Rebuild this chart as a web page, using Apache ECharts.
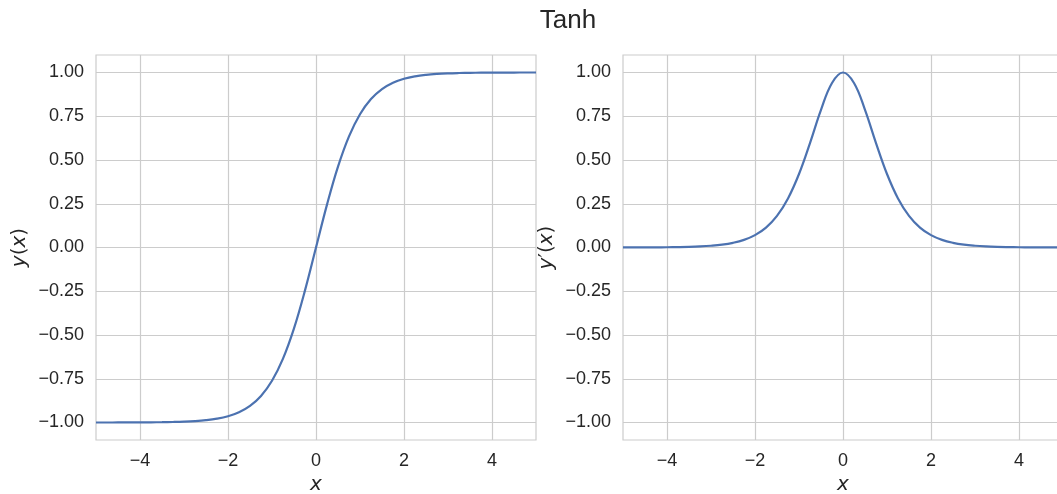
<!DOCTYPE html>
<html><head><meta charset="utf-8">
<script src="https://cdn.jsdelivr.net/npm/echarts@6/dist/echarts.min.js"></script>
<style>html,body{margin:0;padding:0;background:#fff}#c{width:1057px;height:494px}</style>
</head><body><div id="c"></div>
<script>
const title = 'Tanh';
const xValues = [-5,-4.75,-4.5,-4.25,-4,-3.75,-3.5,-3.25,-3,-2.75,-2.5,-2.25,-2,-1.75,-1.5,-1.25,-1,-0.75,-0.5,-0.25,0,0.25,0.5,0.75,1,1.25,1.5,1.75,2,2.25,2.5,2.75,3,3.25,3.5,3.75,4,4.25,4.5,4.75,5];
const tanhValues = [-0.9999,-0.9999,-0.9998,-0.9996,-0.9993,-0.9989,-0.9982,-0.9970,-0.9951,-0.9919,-0.9866,-0.9780,-0.9640,-0.9414,-0.9051,-0.8483,-0.7616,-0.6351,-0.4621,-0.2449,0,0.2449,0.4621,0.6351,0.7616,0.8483,0.9051,0.9414,0.9640,0.9780,0.9866,0.9919,0.9951,0.9970,0.9982,0.9989,0.9993,0.9996,0.9998,0.9999,0.9999];
const derivValues = [0.0002,0.0003,0.0005,0.0008,0.0013,0.0022,0.0036,0.0060,0.0099,0.0161,0.0266,0.0435,0.0707,0.1138,0.1807,0.2804,0.4200,0.5966,0.7864,0.9400,1,0.9400,0.7864,0.5966,0.4200,0.2804,0.1807,0.1138,0.0707,0.0435,0.0266,0.0161,0.0099,0.0060,0.0036,0.0022,0.0013,0.0008,0.0005,0.0003,0.0002];
const xTickLabels = [-4,-2,0,2,4];
const yTickLabels = [-1.0,-0.75,-0.5,-0.25,0,0.25,0.5,0.75,1.0];

const FONT = "'Liberation Sans', Arial, sans-serif";
const TXT = '#262626';
const GRID = '#cccccc';
const near = (v, arr) => arr.some(t => Math.abs(v - t) < 1e-6);
const minus = s => s.replace('-', '\u2212');

function xAxis(idx) {
  return {
    type: 'value', gridIndex: idx, min: -5, max: 5, interval: 1,
    axisLine: {show: false}, axisTick: {show: false},
    axisLabel: {color: TXT, fontSize: 18, fontFamily: FONT, margin: 12,
      formatter: v => near(v, xTickLabels) ? minus(String(Math.round(v))) : ''},
    splitLine: {show: true, lineStyle: {color: ['transparent', GRID], width: 1.2}},
    name: 'x', nameLocation: 'middle', nameGap: 35,
    nameTextStyle: {color: TXT, fontSize: 20, fontStyle: 'italic', fontFamily: "'DejaVu Sans', sans-serif"}
  };
}
function yAxis(idx, prime) {
  return {
    type: 'value', gridIndex: idx, min: -1.1, max: 1.1, interval: 0.05,
    axisLine: {show: false}, axisTick: {show: false},
    axisLabel: {color: TXT, fontSize: 18, fontFamily: FONT, margin: 12,
      formatter: v => near(v, yTickLabels) ? minus(v.toFixed(2)) : ''},
    splitLine: {show: true, lineStyle: {color: ['transparent','transparent',GRID,'transparent','transparent'], width: 1.2}},
    name: prime ? '{i|y}{p|\u2032}({i|x})' : '{i|y}({i|x})',
    nameLocation: 'middle', nameGap: 66, nameRotate: 90,
    nameTextStyle: {color: TXT, fontSize: 20, fontFamily: "'DejaVu Sans', sans-serif",
      rich: {i: {fontStyle: 'italic', fontSize: 20, color: TXT, fontFamily: "'DejaVu Sans', sans-serif"},
             p: {fontSize: 20, color: TXT, fontFamily: "'DejaVu Sans', sans-serif"}}}
  };
}
const chart = echarts.init(document.getElementById('c'), null, {renderer: 'canvas'});
chart.setOption({
  animation: false,
  title: {text: title, left: 563, top: 3, textAlign: 'center',
    textStyle: {color: TXT, fontSize: 26, fontWeight: 'normal', fontFamily: FONT}},
  grid: [
    {left: 96, top: 55, width: 440, height: 385, outerBoundsMode: 'none', containLabel: false, show: true, borderColor: GRID, borderWidth: 1.2, backgroundColor: 'transparent'},
    {left: 623, top: 55, width: 440, height: 385, outerBoundsMode: 'none', containLabel: false, show: true, borderColor: GRID, borderWidth: 1.2, backgroundColor: 'transparent'}
  ],
  xAxis: [xAxis(0), xAxis(1)],
  yAxis: [yAxis(0, false), yAxis(1, true)],
  series: [
    {type: 'line', xAxisIndex: 0, yAxisIndex: 0, data: xValues.map((x, i) => [x, tanhValues[i]]),
      showSymbol: false, smooth: 0.4, lineStyle: {color: '#4c72b0', width: 2.2}},
    {type: 'line', xAxisIndex: 1, yAxisIndex: 1, data: xValues.map((x, i) => [x, derivValues[i]]),
      showSymbol: false, smooth: 0.4, lineStyle: {color: '#4c72b0', width: 2.2}}
  ]
});
</script></body></html>
